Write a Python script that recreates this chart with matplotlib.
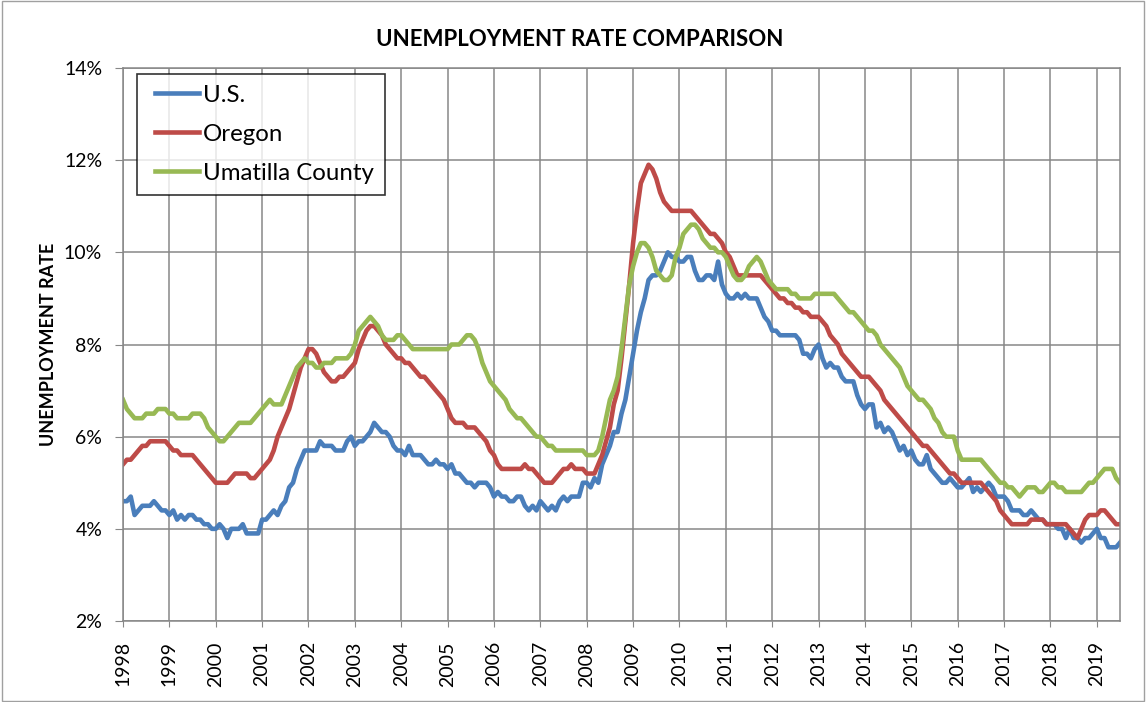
import matplotlib
matplotlib.use("Agg")
import matplotlib.pyplot as plt
from matplotlib.ticker import FuncFormatter
from matplotlib.patches import Rectangle
from matplotlib.legend_handler import HandlerLine2D
from matplotlib.lines import Line2D

# monthly values, Jan 1998 - Jul 2019 (percent)
years = list(range(1998, 2020))

us = [
    4.6, 4.6, 4.7, 4.3, 4.4, 4.5, 4.5, 4.5, 4.6, 4.5, 4.4, 4.4,
    4.3, 4.4, 4.2, 4.3, 4.2, 4.3, 4.3, 4.2, 4.2, 4.1, 4.1, 4.0,
    4.0, 4.1, 4.0, 3.8, 4.0, 4.0, 4.0, 4.1, 3.9, 3.9, 3.9, 3.9,
    4.2, 4.2, 4.3, 4.4, 4.3, 4.5, 4.6, 4.9, 5.0, 5.3, 5.5, 5.7,
    5.7, 5.7, 5.7, 5.9, 5.8, 5.8, 5.8, 5.7, 5.7, 5.7, 5.9, 6.0,
    5.8, 5.9, 5.9, 6.0, 6.1, 6.3, 6.2, 6.1, 6.1, 6.0, 5.8, 5.7,
    5.7, 5.6, 5.8, 5.6, 5.6, 5.6, 5.5, 5.4, 5.4, 5.5, 5.4, 5.4,
    5.3, 5.4, 5.2, 5.2, 5.1, 5.0, 5.0, 4.9, 5.0, 5.0, 5.0, 4.9,
    4.7, 4.8, 4.7, 4.7, 4.6, 4.6, 4.7, 4.7, 4.5, 4.4, 4.5, 4.4,
    4.6, 4.5, 4.4, 4.5, 4.4, 4.6, 4.7, 4.6, 4.7, 4.7, 4.7, 5.0,
    5.0, 4.9, 5.1, 5.0, 5.4, 5.6, 5.8, 6.1, 6.1, 6.5, 6.8, 7.3,
    7.8, 8.3, 8.7, 9.0, 9.4, 9.5, 9.5, 9.6, 9.8, 10.0, 9.9, 9.9,
    9.8, 9.8, 9.9, 9.9, 9.6, 9.4, 9.4, 9.5, 9.5, 9.4, 9.8, 9.3,
    9.1, 9.0, 9.0, 9.1, 9.0, 9.1, 9.0, 9.0, 9.0, 8.8, 8.6, 8.5,
    8.3, 8.3, 8.2, 8.2, 8.2, 8.2, 8.2, 8.1, 7.8, 7.8, 7.7, 7.9,
    8.0, 7.7, 7.5, 7.6, 7.5, 7.5, 7.3, 7.2, 7.2, 7.2, 6.9, 6.7,
    6.6, 6.7, 6.7, 6.2, 6.3, 6.1, 6.2, 6.1, 5.9, 5.7, 5.8, 5.6,
    5.7, 5.5, 5.4, 5.4, 5.6, 5.3, 5.2, 5.1, 5.0, 5.0, 5.1, 5.0,
    4.9, 4.9, 5.0, 5.1, 4.8, 4.9, 4.8, 4.9, 5.0, 4.9, 4.7, 4.7,
    4.7, 4.6, 4.4, 4.4, 4.4, 4.3, 4.3, 4.4, 4.3, 4.2, 4.2, 4.1,
    4.1, 4.1, 4.0, 4.0, 3.8, 4.0, 3.8, 3.8, 3.7, 3.8, 3.8, 3.9,
    4.0, 3.8, 3.8, 3.6, 3.6, 3.6, 3.7,
]

oregon = [
    5.4, 5.5, 5.5, 5.6, 5.7, 5.8, 5.8, 5.9, 5.9, 5.9, 5.9, 5.9,
    5.8, 5.7, 5.7, 5.6, 5.6, 5.6, 5.6, 5.5, 5.4, 5.3, 5.2, 5.1,
    5.0, 5.0, 5.0, 5.0, 5.1, 5.2, 5.2, 5.2, 5.2, 5.1, 5.1, 5.2,
    5.3, 5.4, 5.5, 5.7, 6.0, 6.2, 6.4, 6.6, 6.9, 7.2, 7.5, 7.7,
    7.9, 7.9, 7.8, 7.6, 7.4, 7.3, 7.2, 7.2, 7.3, 7.3, 7.4, 7.5,
    7.6, 7.9, 8.1, 8.3, 8.4, 8.4, 8.3, 8.2, 8.0, 7.9, 7.8, 7.7,
    7.7, 7.6, 7.6, 7.5, 7.4, 7.3, 7.3, 7.2, 7.1, 7.0, 6.9, 6.8,
    6.6, 6.4, 6.3, 6.3, 6.3, 6.2, 6.2, 6.2, 6.1, 6.0, 5.9, 5.7,
    5.6, 5.4, 5.3, 5.3, 5.3, 5.3, 5.3, 5.3, 5.4, 5.3, 5.3, 5.2,
    5.1, 5.0, 5.0, 5.0, 5.1, 5.2, 5.3, 5.3, 5.4, 5.3, 5.3, 5.3,
    5.2, 5.2, 5.2, 5.4, 5.6, 5.9, 6.2, 6.7, 7.0, 7.7, 8.5, 9.3,
    10.2, 10.9, 11.5, 11.7, 11.9, 11.8, 11.6, 11.3, 11.1, 11.0, 10.9, 10.9,
    10.9, 10.9, 10.9, 10.9, 10.8, 10.7, 10.6, 10.5, 10.4, 10.4, 10.3, 10.2,
    10.0, 9.9, 9.7, 9.5, 9.5, 9.5, 9.5, 9.5, 9.5, 9.5, 9.4, 9.3,
    9.2, 9.1, 9.0, 9.0, 8.9, 8.9, 8.8, 8.8, 8.7, 8.7, 8.6, 8.6,
    8.6, 8.5, 8.4, 8.2, 8.1, 8.0, 7.8, 7.7, 7.6, 7.5, 7.4, 7.3,
    7.3, 7.3, 7.2, 7.1, 7.0, 6.8, 6.7, 6.6, 6.5, 6.4, 6.3, 6.2,
    6.1, 6.0, 5.9, 5.8, 5.8, 5.7, 5.6, 5.5, 5.4, 5.3, 5.2, 5.2,
    5.1, 5.0, 5.0, 5.0, 5.0, 5.0, 5.0, 4.9, 4.8, 4.7, 4.6, 4.4,
    4.3, 4.2, 4.1, 4.1, 4.1, 4.1, 4.1, 4.2, 4.2, 4.2, 4.2, 4.1,
    4.1, 4.1, 4.1, 4.1, 4.1, 4.0, 3.9, 3.8, 4.0, 4.2, 4.3, 4.3,
    4.3, 4.4, 4.4, 4.3, 4.2, 4.1, 4.1,
]

umatilla = [
    6.8, 6.6, 6.5, 6.4, 6.4, 6.4, 6.5, 6.5, 6.5, 6.6, 6.6, 6.6,
    6.5, 6.5, 6.4, 6.4, 6.4, 6.4, 6.5, 6.5, 6.5, 6.4, 6.2, 6.1,
    6.0, 5.9, 5.9, 6.0, 6.1, 6.2, 6.3, 6.3, 6.3, 6.3, 6.4, 6.5,
    6.6, 6.7, 6.8, 6.7, 6.7, 6.7, 6.9, 7.1, 7.3, 7.5, 7.6, 7.7,
    7.6, 7.6, 7.5, 7.5, 7.6, 7.6, 7.6, 7.7, 7.7, 7.7, 7.7, 7.8,
    8.0, 8.3, 8.4, 8.5, 8.6, 8.5, 8.4, 8.2, 8.1, 8.1, 8.1, 8.2,
    8.2, 8.1, 8.0, 7.9, 7.9, 7.9, 7.9, 7.9, 7.9, 7.9, 7.9, 7.9,
    7.9, 8.0, 8.0, 8.0, 8.1, 8.2, 8.2, 8.1, 7.9, 7.6, 7.4, 7.2,
    7.1, 7.0, 6.9, 6.8, 6.6, 6.5, 6.4, 6.4, 6.3, 6.2, 6.1, 6.0,
    6.0, 5.9, 5.8, 5.8, 5.7, 5.7, 5.7, 5.7, 5.7, 5.7, 5.7, 5.7,
    5.6, 5.6, 5.6, 5.7, 6.0, 6.4, 6.8, 7.0, 7.3, 7.9, 8.6, 9.3,
    9.7, 10.0, 10.2, 10.2, 10.1, 9.9, 9.6, 9.5, 9.4, 9.4, 9.5, 9.9,
    10.1, 10.4, 10.5, 10.6, 10.6, 10.5, 10.3, 10.2, 10.1, 10.1, 10.0, 10.0,
    9.9, 9.7, 9.5, 9.4, 9.4, 9.5, 9.7, 9.8, 9.9, 9.8, 9.6, 9.4,
    9.3, 9.2, 9.2, 9.2, 9.2, 9.1, 9.1, 9.0, 9.0, 9.0, 9.0, 9.1,
    9.1, 9.1, 9.1, 9.1, 9.1, 9.0, 8.9, 8.8, 8.7, 8.7, 8.6, 8.5,
    8.4, 8.3, 8.3, 8.2, 8.0, 7.9, 7.8, 7.7, 7.6, 7.5, 7.3, 7.1,
    7.0, 6.9, 6.8, 6.8, 6.7, 6.6, 6.4, 6.3, 6.1, 6.0, 6.0, 6.0,
    5.7, 5.5, 5.5, 5.5, 5.5, 5.5, 5.5, 5.4, 5.3, 5.2, 5.1, 5.0,
    5.0, 4.9, 4.9, 4.8, 4.7, 4.8, 4.9, 4.9, 4.9, 4.8, 4.8, 4.9,
    5.0, 5.0, 4.9, 4.9, 4.8, 4.8, 4.8, 4.8, 4.8, 4.9, 5.0, 5.0,
    5.1, 5.2, 5.3, 5.3, 5.3, 5.1, 5.0,
]

series = [("U.S.", us, "#4A7EBB"),
          ("Oregon", oregon, "#BE4B48"),
          ("Umatilla County", umatilla, "#98B954")]

plt.rcParams["font.family"] = ["Lato", "DejaVu Sans"]
grid_c = "#878787"

fig = plt.figure(figsize=(11.46, 7.02), dpi=100)
ax = fig.add_axes([123 / 1146, 1 - 621 / 702, 997 / 1146, 553 / 702])

months = list(range(len(us)))
for name, vals, col in series:
    ax.plot(months, vals, color=col, lw=3.3, label=name, solid_joinstyle="round")

ax.set_xlim(0, len(us) - 1)
ax.set_ylim(2, 14)
ax.set_yticks(range(2, 15, 2))
ax.yaxis.set_major_formatter(FuncFormatter(lambda v, p: "%d%%" % v))
ax.set_xticks([12 * i for i in range(len(years))])
ax.set_xticklabels([str(y) for y in years], rotation=90, fontsize=14)
ax.tick_params(axis="y", labelsize=14, length=6, color=grid_c, pad=9)
ax.tick_params(axis="x", length=4.5, color=grid_c, pad=10)
ax.grid(True, color=grid_c, lw=1.1)
ax.set_axisbelow(True)
for s in ax.spines.values():
    s.set_color(grid_c)
    s.set_linewidth(1.1)

ax.set_ylabel("UNEMPLOYMENT RATE", fontsize=13, fontweight="bold", labelpad=5)
fig.text(580 / 1146, 1 - 40 / 702, "UNEMPLOYMENT RATE COMPARISON",
         ha="center", va="center", fontsize=16, fontweight="bold")

# legend handle pushed a bit right inside the box, like the original
leg = ax.legend(loc="upper left", bbox_to_anchor=(14 / 997, 1 - 6 / 553),
                fontsize=17.3, frameon=True, fancybox=False, borderpad=0.45,
                handlelength=2.15, handletextpad=0.15, labelspacing=0.75,
                borderaxespad=0, handler_map={Line2D: HandlerLine2D(xpad=0.3)})
leg.get_frame().set_edgecolor("black")
leg.get_frame().set_linewidth(1.2)

fig.patches.append(Rectangle((0.002, 0.002), 0.996, 0.996, transform=fig.transFigure,
                             fill=False, edgecolor="#A0A0A0", lw=1))

fig.savefig("out.png", dpi=100)
